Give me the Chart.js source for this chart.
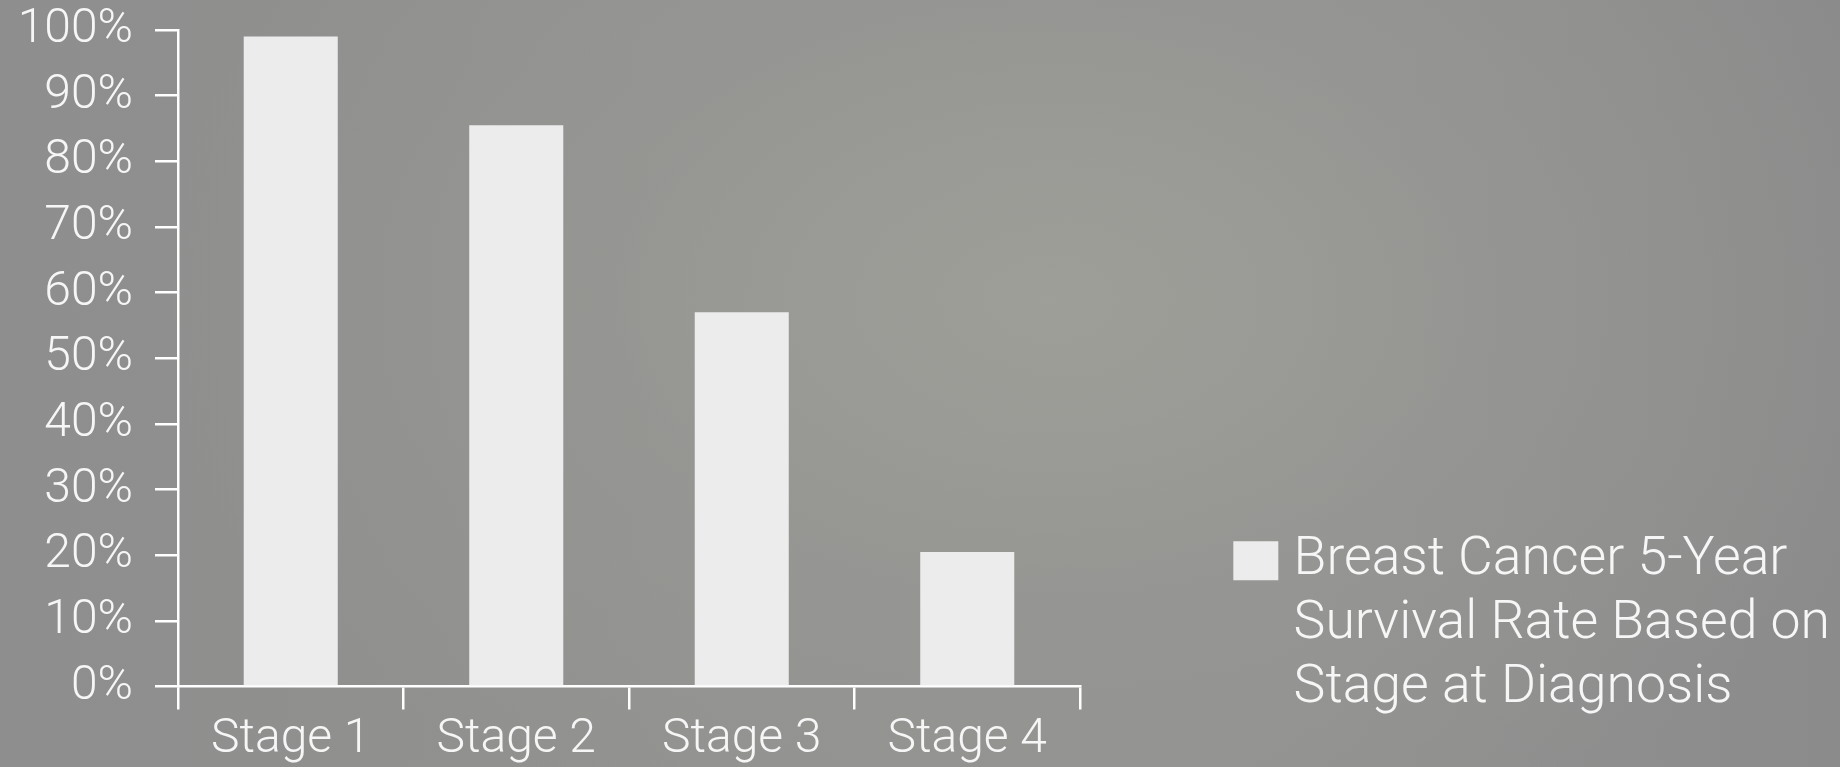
<!DOCTYPE html>
<html>
<head>
<meta charset="utf-8">
<script src="https://cdn.jsdelivr.net/npm/chart.js@4/dist/chart.umd.min.js"></script>
<style>
  html, body { margin: 0; padding: 0; }
  body {
    width: 1840px; height: 767px; overflow: hidden;
    background:
      radial-gradient(ellipse 1000px 650px at 1050px 300px, rgba(160,160,154,0.9) 0%, rgba(152,152,149,0.6) 45%, rgba(140,140,140,0) 90%),
      linear-gradient(90deg, #8e8e8e 0%, #929290 40%, #929291 70%, #8b8b8b 100%);
  }
  canvas { display: block; }
</style>
</head>
<body>
<canvas id="c" width="1840" height="767"></canvas>
<script>
// ---- data ----
const categories = ['Stage 1', 'Stage 2', 'Stage 3', 'Stage 4'];
const survivalRates = [99, 85.5, 57, 20.5];
const seriesLabelLines = ['Breast Cancer 5-Year', 'Survival Rate Based on', 'Stage at Diagnosis'];
const yTickValues = [0, 10, 20, 30, 40, 50, 60, 70, 80, 90, 100];
const yTickSuffix = '%';

// ---- style ----
const FONT_FAMILY = 'Roboto, "Liberation Sans", sans-serif';
const FONT_WEIGHT = 300;
const FONT_SIZE = 48;
const LEGEND_FONT_SIZE = 53.6;
const TEXT_COLOR = '#f6f6f6';
const LINE_COLOR = '#ffffff';
const BAR_COLOR = '#ececec';
const LEGEND_PAD = 41;
const BOX_W = 22, BOX_H = 16, BOX_STROKE = 23;   // visual box ~45 x 39
const CHART_RIGHT = 1080;

// measure legend text width to reserve gap between plot and legend
const mctx = document.createElement('canvas').getContext('2d');
mctx.font = `${FONT_WEIGHT} ${LEGEND_FONT_SIZE}px ${FONT_FAMILY}`;
const longest = seriesLabelLines.reduce((a, b) => a.length > b.length ? a : b);
const textW = mctx.measureText(longest).width;
const legendW = LEGEND_PAD + BOX_W + LEGEND_FONT_SIZE / 2 + textW + 10;
const gapW = Math.max(0, 1840 - CHART_RIGHT - legendW);

const xTickFont = { family: FONT_FAMILY, size: FONT_SIZE, weight: FONT_WEIGHT, lineHeight: 1.2 };
const yTickFont = { family: FONT_FAMILY, size: FONT_SIZE, weight: FONT_WEIGHT, lineHeight: 1.2 };

new Chart(document.getElementById('c'), {
  type: 'bar',
  data: {
    labels: categories,
    datasets: [{
      label: seriesLabelLines.join(' '),
      data: survivalRates,
      backgroundColor: BAR_COLOR,
      borderWidth: 0,
      barPercentage: 0.417,
      categoryPercentage: 1
    }]
  },
  options: {
    responsive: false,
    animation: false,
    devicePixelRatio: 1,
    layout: { padding: { top: 30, left: 0, right: 0, bottom: 0 } },
    plugins: {
      tooltip: { enabled: false },
      legend: {
        position: 'right',
        align: 'end',
        maxWidth: 900,
        labels: {
          boxWidth: BOX_W,
          boxHeight: BOX_H,
          padding: LEGEND_PAD,
          color: TEXT_COLOR,
          font: { family: FONT_FAMILY, size: LEGEND_FONT_SIZE, weight: FONT_WEIGHT, lineHeight: 64 / LEGEND_FONT_SIZE },
          generateLabels: () => [{
            text: seriesLabelLines,
            fillStyle: BAR_COLOR,
            strokeStyle: BAR_COLOR,
            fontColor: TEXT_COLOR,
            lineWidth: BOX_STROKE,
            lineJoin: 'miter',
            hidden: false,
            datasetIndex: 0
          }]
        }
      }
    },
    scales: {
      x: {
        offset: true,
        afterFit: (s) => { s.height = 80.5; },
        grid: { display: true, drawOnChartArea: false, drawTicks: true, tickLength: 23, color: LINE_COLOR, lineWidth: 2.5, offset: true },
        border: { display: true, color: LINE_COLOR, width: 2.5 },
        ticks: { color: TEXT_COLOR, font: xTickFont, padding: 2, maxRotation: 0 }
      },
      y: {
        min: 0,
        max: 100,
        afterBuildTicks: (s) => { s.ticks = yTickValues.map(v => ({ value: v })); },
        afterFit: (s) => { s.width = 178; s.paddingTop = 0; s.paddingBottom = 0; },
        grid: { display: true, drawOnChartArea: false, drawTicks: true, tickLength: 23, color: LINE_COLOR, lineWidth: 2.5 },
        border: { display: true, color: LINE_COLOR, width: 2.5 },
        ticks: { color: TEXT_COLOR, font: yTickFont, padding: 22, callback: (v) => v + yTickSuffix }
      },
      gap: {
        type: 'linear',
        position: 'right',
        display: true,
        grid: { display: false, drawTicks: false },
        border: { display: false },
        ticks: { display: false },
        afterFit: (s) => { s.width = gapW; s.paddingTop = 0; s.paddingBottom = 0; }
      }
    }
  }
});
</script>
</body>
</html>
